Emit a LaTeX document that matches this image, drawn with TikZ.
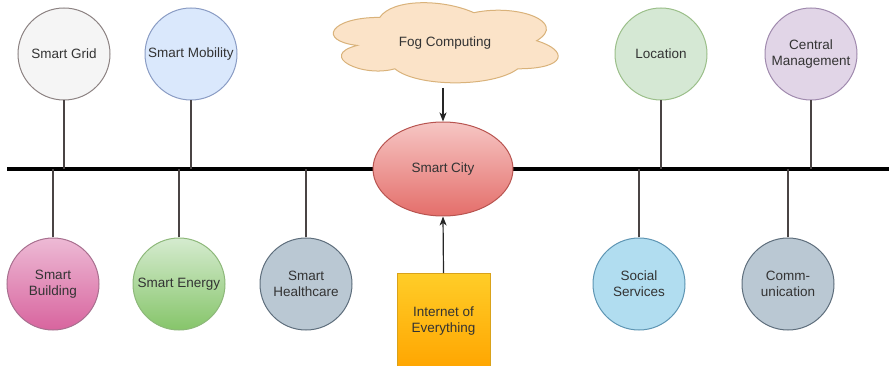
\documentclass[tikz,border=0pt]{standalone}
\usepackage{fontspec}
\setmainfont{Liberation Sans}
\usetikzlibrary{shapes.geometric,arrows.meta}

\definecolor{txt}{HTML}{333333}
\definecolor{stem}{HTML}{4A4444}
\definecolor{gridfill}{HTML}{F5F5F5}   \definecolor{gridline}{HTML}{8C8282}
\definecolor{mobfill}{HTML}{DAE8FC}    \definecolor{mobline}{HTML}{8A9CC4}
\definecolor{locfill}{HTML}{D5E8D4}    \definecolor{locline}{HTML}{9BBF8A}
\definecolor{cenfill}{HTML}{E1D5E7}    \definecolor{cenline}{HTML}{A08AAE}
\definecolor{bldtop}{HTML}{EDBAD5}     \definecolor{bldbot}{HTML}{D8649E}  \definecolor{bldline}{HTML}{A8708F}
\definecolor{engtop}{HTML}{D5EBCF}     \definecolor{engbot}{HTML}{86C56A}  \definecolor{engline}{HTML}{8DB87A}
\definecolor{slatefill}{HTML}{BAC8D3}  \definecolor{slateline}{HTML}{5E6E7C}
\definecolor{socfill}{HTML}{B1DDF0}    \definecolor{socline}{HTML}{5E95B3}
\definecolor{citytop}{HTML}{F6C6C4}    \definecolor{citybot}{HTML}{E46E6A} \definecolor{cityline}{HTML}{B85450}
\definecolor{fogfill}{HTML}{FBE3C8}    \definecolor{fogline}{HTML}{D9B27A}
\definecolor{ioetop}{HTML}{FFCD28}     \definecolor{ioebot}{HTML}{FFA500}  \definecolor{ioeline}{HTML}{D9A21A}

\tikzset{
  label font/.style={text=txt, font=\fontsize{13.5}{16}\selectfont},
  topic/.style={circle, minimum size=92pt, inner sep=0pt, line width=1pt,
    align=center, label font},
  stemline/.style={draw=stem, line width=1.3pt},
  busline/.style={draw=black, line width=4pt},
  feed/.style={draw=black!85, line width=1.2pt, -{Stealth[length=9pt,width=7pt,inset=2.5pt]}},
}

\begin{document}
\begin{tikzpicture}[x=1pt,y=-1pt]
  \useasboundingbox (0,0) rectangle (889,366);
  \clip (0,0) rectangle (889,366);

  % backbone
  \coordinate (busL) at (7,169);
  \coordinate (busR) at (889,169);
  \draw[busline] (busL) -- (busR);

  % upper topics
  \node[topic, fill=gridfill, draw=gridline] (grid) at (64,54) {Smart Grid};
  \node[topic, fill=mobfill, draw=mobline] (mobility) at (191,54) {Smart Mobility};
  \node[topic, fill=locfill, draw=locline] (location) at (661,54) {Location};
  \node[topic, fill=cenfill, draw=cenline] (central) at (811,54) {Central\\Management};

  % lower topics
  \node[topic, top color=bldtop, bottom color=bldbot, draw=bldline] (building) at (53,284) {Smart\\Building};
  \node[topic, top color=engtop, bottom color=engbot, draw=engline] (energy) at (179,284) {Smart Energy};
  \node[topic, fill=slatefill, draw=slateline] (health) at (306,284) {Smart\\Healthcare};
  \node[topic, fill=socfill, draw=socline] (social) at (639,284) {Social\\Services};
  \node[topic, fill=slatefill, draw=slateline] (comm) at (788,284) {Comm-\\unication};

  % stems to the backbone
  \foreach \n in {grid,mobility,location,central}
    \draw[stemline] (\n.south) -- (\n.south |- busL);
  \foreach \n in {building,energy,health,social,comm}
    \draw[stemline] (\n.north) -- (\n.north |- busL);

  % hub
  \node[ellipse, minimum width=140pt, minimum height=94pt, inner sep=0pt,
        top color=citytop, bottom color=citybot, draw=cityline,
        line width=1pt, label font] (city) at (443,169) {Smart City};

  % fog layer: cloud outline in unit box coordinates
  \begin{scope}[shift={(317,-6)}, x=251pt, y=-93.5pt]
    \draw[fill=fogfill, draw=fogline, line width=1pt]
      (0.25,0.25)
      .. controls (0.05,0.25) and (0,0.5) .. (0.16,0.55)
      .. controls (0,0.66) and (0.18,0.9) .. (0.31,0.8)
      .. controls (0.4,1) and (0.7,1) .. (0.8,0.8)
      .. controls (1,0.8) and (1,0.6) .. (0.875,0.5)
      .. controls (1,0.3) and (0.8,0.1) .. (0.625,0.2)
      .. controls (0.5,0.05) and (0.3,0.05) .. (0.25,0.25) -- cycle;
  \end{scope}
  \node[label font] (fog) at (445,43) {Fog Computing};

  % IoE block
  \node[rectangle, minimum width=93pt, minimum height=96pt, inner sep=0pt, anchor=north,
        top color=ioetop, bottom color=ioebot, draw=ioeline,
        line width=1pt, align=center, label font] (ioe) at (443.5,273) {Internet of\\Everything};

  % arrows into the hub
  \coordinate (fogout) at (443,88);
  \draw[feed] (fogout) -- (city.north);
  \draw[feed] (ioe.north) -- (city.south);
\end{tikzpicture}
\end{document}
